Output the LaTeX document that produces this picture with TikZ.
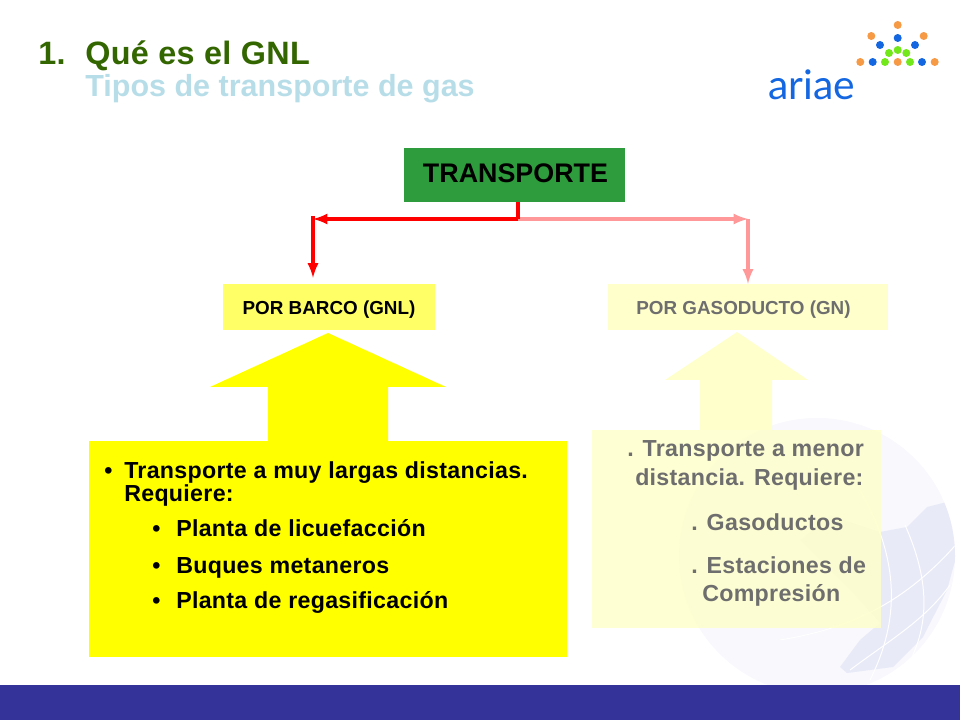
\documentclass[tikz,border=0pt]{standalone}
\usepackage{fontspec}
\setmainfont{Liberation Sans}
\newfontfamily\logofont{Lato}
\newfontfamily\widefont[LetterSpace=1.3]{Liberation Sans}
\newfontfamily\titlefont[LetterSpace=1.2]{Liberation Sans}
\usepackage{tikz}
\usetikzlibrary{arrows,positioning,calc}
\definecolor{titlegreen}{HTML}{336600}
\definecolor{titleblue}{HTML}{B7DDE8}
\definecolor{boxgreen}{HTML}{2E9B3C}
\definecolor{barblue}{HTML}{333399}
\definecolor{pureyellow}{HTML}{FFFF00}
\definecolor{paleyellow}{HTML}{FFFFCC}
\definecolor{midyellow}{HTML}{FFFF66}
\definecolor{palegrey}{HTML}{6E6E6E}
\definecolor{globepale}{HTML}{F8F8FD}
\definecolor{globeblue}{HTML}{E8EAF7}
\definecolor{dotorange}{HTML}{F79A46}
\definecolor{dotblue}{HTML}{1467E0}
\definecolor{dotgreen}{HTML}{72E81A}
\definecolor{pinkline}{HTML}{FF9999}
\tikzset{
  label text/.style={anchor=base west, inner sep=0pt, font=\widefont\bfseries\fontsize{16.5pt}{18pt}\selectfont},
  pale text/.style={label text, text=palegrey},
  title text/.style={anchor=base west, inner sep=0pt, text=titlegreen, font=\titlefont\bfseries\fontsize{23pt}{25pt}\selectfont},
  sub box/.style={minimum width=#1*0.025cm, minimum height=1.15cm, inner sep=0pt, text height=11pt, text depth=0pt, font=\bfseries\fontsize{13.4pt}{15pt}\selectfont},
  link/.style={line width=2.5pt},
  grid line/.style={white, line width=0.7pt}
}
\begin{document}
\begin{tikzpicture}[x=0.025cm,y=-0.025cm]
\useasboundingbox (0,0) rectangle (960,720);
% Globe
\begin{scope}
\clip (817,556) circle[radius=138];
\fill[globepale] (660,410) rectangle (960,690);
\fill[globeblue] (880,532) -- (907,527) -- (927,507) -- (947,502) -- (960,543) -- (947,590) -- (923,637) -- (893,667) -- (847,673) -- (840,667) -- (860,640) -- (880,623) -- (850,590) -- (800,540) -- (830,515) -- cycle;
\draw[grid line] (780,640) .. controls (840,630) and (900,610) .. (960,540);
\draw[grid line] (850,670) .. controls (890,640) and (925,620) .. (950,585);
\draw[grid line] (905,525) .. controls (925,570) and (935,620) .. (905,670);
\draw[grid line] (860,490) .. controls (900,560) and (900,620) .. (870,680);
\end{scope}

% Bottom bar
\fill[barblue] (0,685) rectangle (960,720);

% Title
\node[title text] (titlenum) at (38,65) {1.};
\node[title text] (titlemain) at (85,65) {Qué es el GNL};
\node[anchor=base west, inner sep=0pt, text=titleblue, font=\bfseries\fontsize{21.7pt}{24pt}\selectfont] (titlesub) at (85,97) {Tipos de transporte de gas};

% Logo
\foreach \dotx/\doty in {897.7/25,871.3/36,923.7/36,860.3/62,897.7/62,934.7/62}
  \fill[dotorange] (\dotx,\doty) circle[radius=4];
\foreach \dotx/\doty in {897.7/38,880/45,915/45,872.7/62,922/62}
  \fill[dotblue] (\dotx,\doty) circle[radius=4];
\foreach \dotx/\doty in {897.7/50,889/53,906.3/53,885/62,910/62}
  \fill[dotgreen] (\dotx,\doty) circle[radius=4];
\node[anchor=base west, inner sep=0pt, text=dotblue, font=\logofont\fontsize{29pt}{30pt}\selectfont] (logotext) at (768,100) {ariae};

% Big arrows
\fill[pureyellow] (328,333) -- (446,387) -- (388,387) -- (388,441) -- (268,441) -- (268,387) -- (210,387) -- cycle;
\fill[paleyellow] (737,332) -- (808,380) -- (772,380) -- (772,430) -- (700,430) -- (700,380) -- (665,380) -- cycle;

% Text boxes
\node[fill=pureyellow, minimum width=478*0.025cm, minimum height=216*0.025cm, inner sep=0pt] (barcobox) at (328,549) {};
\node[fill=paleyellow, fill opacity=0.85, minimum width=289*0.025cm, minimum height=198*0.025cm, inner sep=0pt] (gasbox) at (736.5,529) {};

% Boxes of the tree
\node[fill=boxgreen, minimum width=221*0.025cm, minimum height=54*0.025cm, inner sep=0pt, text height=10.3pt, text depth=0pt, font=\bfseries\fontsize{19.1pt}{21pt}\selectfont] (transporte) at (514.5,175) {\hspace{1.4pt}TRANSPORTE};
\node[fill=midyellow, sub box=212] (barco) at (329,307) {POR BARCO (GNL)};
\node[fill=paleyellow, sub box=280, text=palegrey] (gasoducto) at (748,307) {POR GASODUCTO (GN)\hspace{6.4pt}\null};

% Connections
\coordinate (branch) at (518,219);
\coordinate (redcorner) at (313,219);
\coordinate (pinkcorner) at (748,219);
\draw[-latex, link, pinkline] (branch) -- (pinkcorner);
\draw[-latex, link, pinkline] (pinkcorner) -- (gasoducto.north);
\draw[link, red] (transporte.south -| branch) -- (branch);
\draw[-latex, link, red] (branch) -- (redcorner);
\draw[-latex, link, red] ($(redcorner)+(0,-3)$) -- ($(barco.north -| redcorner)+(0,-6)$);

% Left text
\node[label text] (barcobullet) at (104,479) {•};
\node[label text] (barcotext) at (124,479) {Transporte a muy largas distancias.};
\node[label text] (barcotextb) at (124,502) {Requiere:};
\node[label text] (licbullet) at (152,536) {•};
\node[label text] (lictext) at (176,536) {Planta de licuefacción};
\node[label text] (buqbullet) at (152,573) {•};
\node[label text] (buqtext) at (176,573) {Buques metaneros};
\node[label text] (regbullet) at (152,608) {•};
\node[label text] (regtext) at (176,608) {Planta de regasificación};

% Right text
\node[pale text] (gastexta) at (627,457) {. Transporte a menor};
\node[pale text] (gastextb) at (635,486) {distancia. Requiere:};
\node[pale text] (gastextc) at (691,530) {. Gasoductos};
\node[pale text] (gastextd) at (691,573) {. Estaciones de};
\node[pale text] (gastexte) at (702,601) {Compresión};
\end{tikzpicture}
\end{document}
